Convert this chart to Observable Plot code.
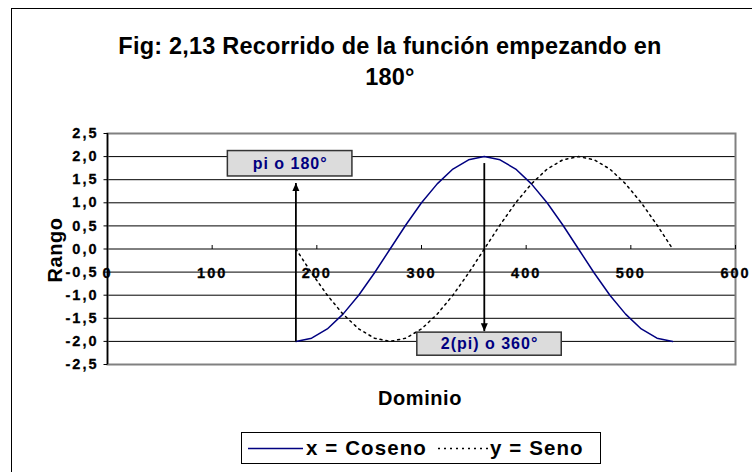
<!DOCTYPE html>
<html>
<head>
<meta charset="utf-8">
<script src="https://cdn.jsdelivr.net/npm/d3@7"></script>
<script src="https://cdn.jsdelivr.net/npm/@observablehq/plot@0.6"></script>
<style>
  body { margin: 0; background: #fff; }
  #wrap { position: relative; width: 752px; height: 472px; overflow: hidden; font-family: "Liberation Sans", Arial, sans-serif; color: #000; }
  #outer { position: absolute; left: 11px; top: 8px; width: 800px; height: 520px; border: 1px solid #000; box-sizing: border-box; }
  #title { position: absolute; left: 0; width: 780px; top: 31px; text-align: center; font-weight: bold; font-size: 23.5px; line-height: 31px; letter-spacing: 0.2px; }
  #ylab { position: absolute; left: 55px; top: 250px; transform: translate(-50%, -50%) rotate(-90deg); font-weight: bold; font-size: 20px; letter-spacing: 0.6px; white-space: nowrap; }
  #xlab { position: absolute; left: 420px; top: 398px; transform: translate(-50%, -50%); font-weight: bold; font-size: 20px; letter-spacing: 0.6px; white-space: nowrap; }
  #legend { position: absolute; left: 241px; top: 432px; width: 360px; height: 32px; border: 1px solid #000; box-sizing: border-box; font-weight: bold; font-size: 20.5px; }
  #legend span { position: absolute; top: 50%; transform: translateY(-50%); white-space: nowrap; letter-spacing: 1.1px; }
  #legend svg { position: absolute; top: 14px; }
  #chart { position: absolute; left: 0; top: 0; }
  #chart svg text { font-family: "Liberation Sans", Arial, sans-serif; font-weight: bold; }
</style>
</head>
<body>
<div id="wrap">
  <div id="outer"></div>
  <div id="chart"></div>
  <div id="title">Fig: 2,13 Recorrido de la función empezando en<br>180°</div>
  <div id="ylab">Rango</div>
  <div id="xlab">Dominio</div>
  <div id="legend">
    <svg style="left:6px" width="56" height="3"><line x1="0" y1="1.5" x2="55" y2="1.5" stroke="#000080" stroke-width="1.5"/></svg>
    <span style="left:64px">x = Coseno</span>
    <svg style="left:196px" width="52" height="3"><line x1="0" y1="1.5" x2="50" y2="1.5" stroke="#000" stroke-width="1.5" stroke-dasharray="2,4"/></svg>
    <span style="left:248px">y = Seno</span>
  </div>
</div>
<script>
// ---- data ----
const theta = [180, 195, 210, 225, 240, 255, 270, 285, 300, 315, 330, 345, 360,
               375, 390, 405, 420, 435, 450, 465, 480, 495, 510, 525, 540];
const cosVals = [-2.00, -1.93, -1.73, -1.41, -1.00, -0.52, 0.00, 0.52, 1.00, 1.41, 1.73, 1.93, 2.00,
                 1.93, 1.73, 1.41, 1.00, 0.52, 0.00, -0.52, -1.00, -1.41, -1.73, -1.93, -2.00];
const sinVals = [0.00, -0.52, -1.00, -1.41, -1.73, -1.93, -2.00, -1.93, -1.73, -1.41, -1.00, -0.52, 0.00,
                 0.52, 1.00, 1.41, 1.73, 1.93, 2.00, 1.93, 1.73, 1.41, 1.00, 0.52, 0.00];
const yTicks = [-2.5, -2.0, -1.5, -1.0, -0.5, 0.0, 0.5, 1.0, 1.5, 2.0, 2.5];
const xTicks = [0, 100, 200, 300, 400, 500, 600];

// annotations (arrows and labelled boxes)
const arrowX = [180, 360];
const arrowFrom = [-2.0, 1.86];
const arrowTo = [1.43, -1.78];
const noteText = ["pi o 180°", "2(pi) o 360°"];
const noteX1 = [115, 296];
const noteX2 = [234, 434];
const noteY1 = [1.57, -2.31];
const noteY2 = [2.12, -1.81];

// ---- build tables ----
const cosData = theta.map((t, i) => ({x: t, y: cosVals[i]}));
const sinData = theta.map((t, i) => ({x: t, y: sinVals[i]}));
const arrows = arrowX.map((x, i) => ({x, from: arrowFrom[i], to: arrowTo[i]}));
const notes = noteText.map((t, i) => ({text: t, x1: noteX1[i], x2: noteX2[i], y1: noteY1[i], y2: noteY2[i]}));

const triUp = {draw(ctx) { ctx.moveTo(0, 0); ctx.lineTo(-3.5, 8); ctx.lineTo(3.5, 8); ctx.closePath(); }};
const triDown = {draw(ctx) { ctx.moveTo(0, 0); ctx.lineTo(-3.5, -8); ctx.lineTo(3.5, -8); ctx.closePath(); }};
const tickUp = {draw(ctx) { ctx.moveTo(0, 0); ctx.lineTo(0, -4); }};
const tickLeft = {draw(ctx) { ctx.moveTo(0, 0); ctx.lineTo(-4, 0); }};

const fmt = d => d.toFixed(1).replace(".", ",");

const chart = Plot.plot({
  width: 752,
  height: 472,
  marginLeft: 107,
  marginRight: 17,
  marginTop: 133,
  marginBottom: 108,
  style: {background: "transparent", color: "#000"},
  x: {domain: [0, 600], axis: null},
  y: {domain: [-2.5, 2.5], axis: null},
  marks: [
    Plot.ruleY(yTicks.filter(v => Math.abs(v) < 2.5), {stroke: "#000", strokeWidth: 1}),
    Plot.frame({stroke: "#808080", strokeWidth: 2}),
    Plot.ruleX([0], {stroke: "#000", strokeWidth: 1.5}),
    // y axis ticks and labels
    Plot.dot(yTicks, {x: () => 0, y: d => d, symbol: tickLeft, stroke: "#000", strokeWidth: 1, fill: "none"}),
    Plot.text(yTicks, {x: () => 0, y: d => d, dx: -9, textAnchor: "end", text: fmt, fontSize: 14.5, fontWeight: "bold", fill: "#000", stroke: "#000", strokeWidth: 0.3}),
    // x axis ticks (on the zero line) and labels
    Plot.dot(xTicks, {x: d => d, y: () => 0, symbol: tickUp, stroke: "#000", strokeWidth: 1, fill: "none"}),
    Plot.text(xTicks, {x: d => d, y: () => 0, dy: 24, text: d => String(d), fontSize: 14.5, fontWeight: "bold", fill: "#000", stroke: "#000", strokeWidth: 0.3}),
    // series
    Plot.line(cosData, {x: "x", y: "y", stroke: "#000080", strokeWidth: 1.5}),
    Plot.line(sinData, {x: "x", y: "y", stroke: "#000", strokeWidth: 1.5, strokeDasharray: "2,4"}),
    // annotations
    Plot.link(arrows, {x1: "x", x2: "x", y1: "from", y2: "to", stroke: "#000", strokeWidth: 1.8}),
    Plot.dot(arrows.filter(d => d.to > d.from), {x: "x", y: "to", symbol: triUp, fill: "#000", stroke: "none"}),
    Plot.dot(arrows.filter(d => d.to < d.from), {x: "x", y: "to", symbol: triDown, fill: "#000", stroke: "none"}),
    Plot.rect(notes, {x1: "x1", x2: "x2", y1: "y1", y2: "y2", fill: "#dcdcdc", stroke: "#333", strokeWidth: 1.5}),
    Plot.text(notes, {x: d => (d.x1 + d.x2) / 2, y: d => (d.y1 + d.y2) / 2, text: "text", fill: "#000080", fontSize: 16, fontWeight: "bold"})
  ]
});
// spacing of the rendered text groups (tick labels are wide, annotations a little)
const textGroups = d3.select(chart).selectAll('g[aria-label="text"]').nodes();
textGroups.forEach((g, i) => g.setAttribute("letter-spacing", i < 2 ? "2px" : "1px"));
document.getElementById("chart").appendChild(chart);
</script>
</body>
</html>
